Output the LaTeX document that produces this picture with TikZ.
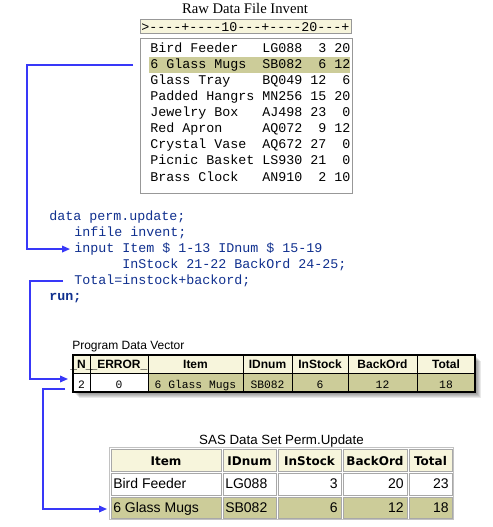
\documentclass[tikz,border=0pt]{standalone}
\usepackage{fontspec}
\setmainfont{Liberation Sans}
\newfontfamily\serf{Liberation Serif}
\newfontfamily\monof[Ligatures=TeXOff]{Liberation Mono}
\newfontfamily\dejav{DejaVu Sans}
\usetikzlibrary{arrows.meta}
\definecolor{cream}{HTML}{F7F5DC}
\definecolor{olivec}{HTML}{CCCC99}
\definecolor{navyc}{HTML}{10308F}
\definecolor{flowblue}{HTML}{3838F8}
\definecolor{boxgray}{HTML}{989898}
\definecolor{cellgray}{HTML}{A8A8A8}
\frenchspacing
\begin{document}
\begin{tikzpicture}[x=0.75pt,y=-0.75pt,
  txt/.style={inner sep=0pt, anchor=base west},
  rawtxt/.style={txt, font=\monof\fontsize{10}{12}\selectfont},
  codetxt/.style={txt, font=\monof\fontsize{10}{12}\selectfont, text=navyc},
  flow/.style={draw=flowblue, line width=1.1pt, -{Triangle[length=6pt,width=5pt]}},
  pdvhead/.style={inner sep=0pt, anchor=base, font=\bfseries\fontsize{9}{11}\selectfont},
  pdvdata/.style={inner sep=0pt, anchor=base, font=\monof\fontsize{8.5}{10}\selectfont},
  sashead/.style={inner sep=0pt, anchor=base, font=\dejav\bfseries\fontsize{9}{11}\selectfont},
  sasleft/.style={inner sep=0pt, anchor=base west, font=\fontsize{10.5}{12}\selectfont},
  sasright/.style={inner sep=0pt, anchor=base east, font=\fontsize{10.5}{12}\selectfont},
  sascell/.style={draw=cellgray, line width=0.75pt},
]
\useasboundingbox (0,0) rectangle (492,527);
\fill[white] (0,0) rectangle (492,527);

% ---------- Raw data file ----------
\node[inner sep=0pt, anchor=base, font=\serf\fontsize{11}{13}\selectfont] (rawtitle) at (245,14) {Raw Data File Invent};
\filldraw[fill=cream, draw=boxgray, line width=0.75pt] (140,20) rectangle (351,34);
\node[rawtxt] (ruler) at (141,32) {>----+----10---+----20---+};
\draw[boxgray, line width=0.75pt, fill=white] (140,39) rectangle (352,193);
\fill[olivec] (149,57) rectangle (350,73);
\node[rawtxt] (r1) at (150,53) {Bird~Feeder~~~LG088~~3~20};
\node[rawtxt] (r2) at (150,69) {6~Glass~Mugs~~SB082~~6~12};
\node[rawtxt] (r3) at (150,85) {Glass~Tray~~~~BQ049~12~~6};
\node[rawtxt] (r4) at (150,101) {Padded~Hangrs~MN256~15~20};
\node[rawtxt] (r5) at (150,117) {Jewelry~Box~~~AJ498~23~~0};
\node[rawtxt] (r6) at (150,133) {Red~Apron~~~~~AQ072~~9~12};
\node[rawtxt] (r7) at (150,149) {Crystal~Vase~~AQ672~27~~0};
\node[rawtxt] (r8) at (150,165) {Picnic~Basket~LS930~21~~0};
\node[rawtxt] (r9) at (150,181) {Brass~Clock~~~AN910~~2~10};

% ---------- DATA step code ----------
\node[codetxt] (c1) at (49,220.5) {data perm.update;};
\node[codetxt] (c2) at (74,236.5) {infile invent;};
\node[codetxt] (c3) at (74,252.5) {input Item \$ 1-13 IDnum \$ 15-19};
\node[codetxt] (c4) at (122,268.5) {InStock 21-22 BackOrd 24-25;};
\node[codetxt] (c5) at (74,284.5) {Total=instock+backord;};
\node[codetxt, font=\monof\bfseries\fontsize{10}{12}\selectfont] (c6) at (49,300.5) {run;};

% ---------- Program Data Vector ----------
\node[inner sep=0pt, anchor=base west, font=\fontsize{9}{11}\selectfont] (pdvtitle) at (72,349) {Program Data Vector};
\foreach \d in {1,...,6}
  \fill[black, opacity=0.085] (73+\d,355+\d) rectangle (475+\d,392+\d);
\fill[cream] (73,355) rectangle (475,373);
\fill[white] (73,373) rectangle (148,392);
\fill[olivec] (148,373) rectangle (475,392);
\draw[black, line width=0.75pt] (73,373) -- (475,373);
\foreach \x in {90,148,243,292,348,417}
  \draw[black, line width=0.75pt] (\x,355) -- (\x,392);
\draw[black, line width=1.5pt] (73,355) rectangle (475,392);
\node[pdvhead] (hN) at (81.5,368) {\_N\_};
\node[pdvhead] (hE) at (119,368) {\_ERROR\_};
\node[pdvhead] (hI) at (195.5,368) {Item};
\node[pdvhead] (hD) at (267.5,368) {IDnum};
\node[pdvhead] (hS) at (320,368) {InStock};
\node[pdvhead] (hB) at (382.5,368) {BackOrd};
\node[pdvhead] (hT) at (446,368) {Total};
\node[pdvdata] (dN) at (81.5,388) {2};
\node[pdvdata] (dE) at (119,388) {0};
\node[pdvdata] (dI) at (195.5,388) {6~Glass~Mugs};
\node[pdvdata] (dD) at (267.5,388) {SB082};
\node[pdvdata] (dS) at (320,388) {6};
\node[pdvdata] (dB) at (382.5,388) {12};
\node[pdvdata] (dT) at (446,388) {18};

% ---------- SAS data set ----------
\node[inner sep=0pt, anchor=base, font=\fontsize{10}{12}\selectfont] (sastitle) at (281.5,444) {SAS Data Set Perm.Update};
\draw[draw=cellgray!70, line width=0.75pt] (109.5,447.5) rectangle (453.5,519.5);
\foreach \xa/\xb in {110/222,222/277,277/342,342/408,408/453}{
  \filldraw[sascell, fill=cream] (\xa+1.5,449.5) rectangle (\xb-0.5,471);
  \filldraw[sascell, fill=white] (\xa+1.5,473) rectangle (\xb-0.5,495);
  \filldraw[sascell, fill=olivec] (\xa+1.5,497) rectangle (\xb-0.5,518.5);
}
\node[sashead] (sI) at (166,465) {Item};
\node[sashead] (sD) at (249.5,465) {IDnum};
\node[sashead] (sS) at (309.5,465) {InStock};
\node[sashead] (sB) at (375,465) {BackOrd};
\node[sashead] (sT) at (430.5,465) {Total};
\node[sasleft] (a1i) at (113,488.5) {Bird Feeder};
\node[sasleft] (a1d) at (225,488.5) {LG088};
\node[sasright] (a1s) at (338,488.5) {3};
\node[sasright] (a1b) at (404,488.5) {20};
\node[sasright] (a1t) at (449,488.5) {23};
\node[sasleft] (a2i) at (113,512.5) {6 Glass Mugs};
\node[sasleft] (a2d) at (225,512.5) {SB082};
\node[sasright] (a2s) at (338,512.5) {6};
\node[sasright] (a2b) at (404,512.5) {12};
\node[sasright] (a2t) at (449,512.5) {18};

% ---------- flow connectors ----------
\coordinate (f1s) at (133,65);
\coordinate (f2s) at (63,281);
\coordinate (f2e) at (68,379);
\coordinate (f3s) at (65,389);
\coordinate (f3e) at (107,509);
\draw[flow] (f1s) -- ++(-106,0) |- ([xshift=-3]c3.west);
\draw[flow] (f2s) -- ++(-33,0) |- (f2e);
\draw[flow] (f3s) -- ++(-22,0) |- (f3e);
\end{tikzpicture}
\end{document}
